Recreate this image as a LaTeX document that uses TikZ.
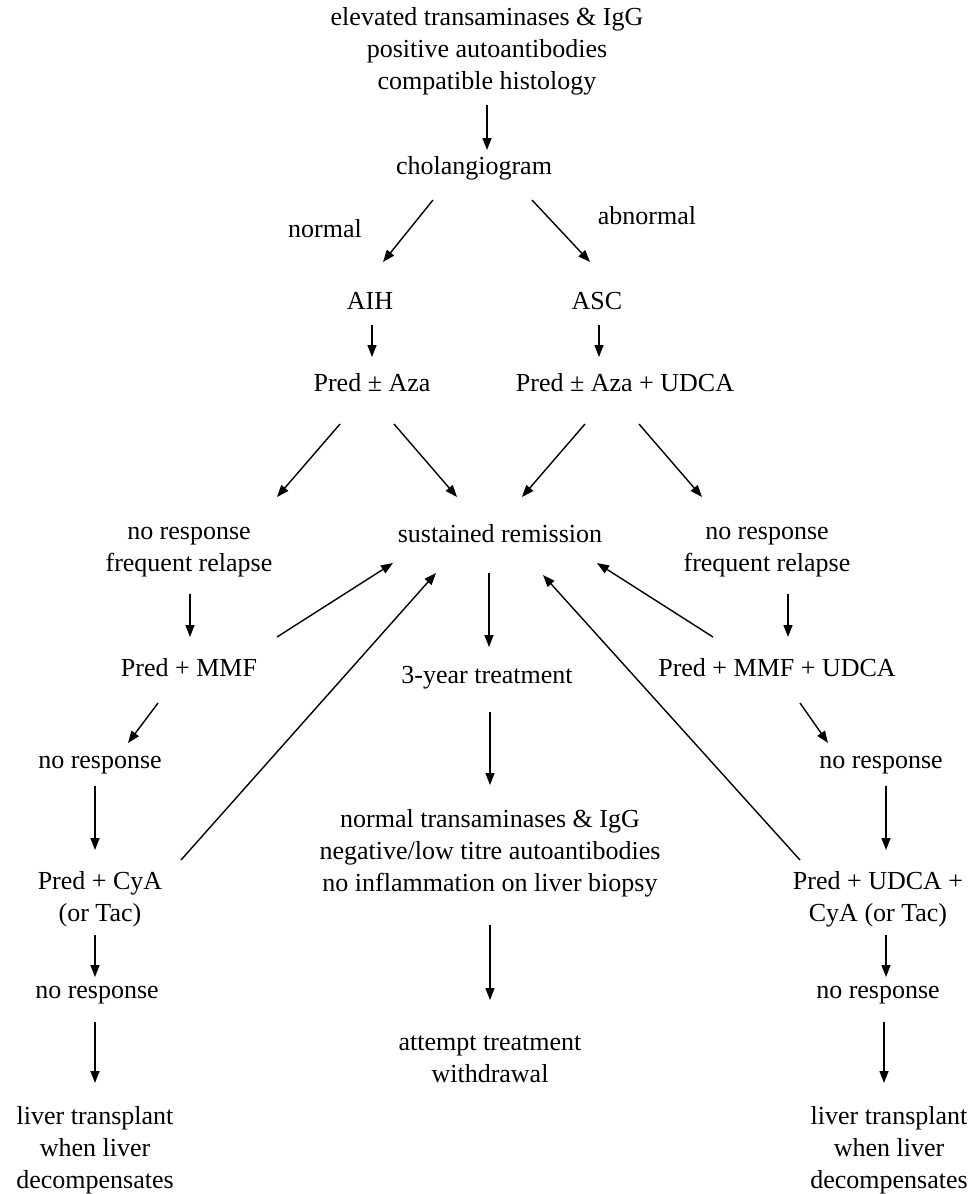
\documentclass[tikz,border=0pt]{standalone}
\usepackage{fontspec}
\setmainfont{Liberation Serif}
\usetikzlibrary{arrows.meta}
\tikzset{
  txt/.style={inner sep=0pt,align=center,font=\fontsize{13}{16}\selectfont},
  arr/.style={line width=0.7pt,-{Triangle[length=6pt,width=4.5pt]}}
}
\begin{document}
\begin{tikzpicture}[x=0.5pt,y=-0.5pt]
	\useasboundingbox (0,0) rectangle (977,1194);
	\node [txt] (top) at (487,51) {elevated transaminases \& IgG\\positive autoantibodies\\compatible histology};
	\node [txt] (chol) at (474,168) {cholangiogram};
	\node [txt] (normal) at (325,229) {normal};
	\node [txt] (abnormal) at (647,216) {abnormal};
	\node [txt] (aih) at (370,301) {AIH};
	\node [txt] (asc) at (597,301) {ASC};
	\node [txt] (praza) at (372,383) {Pred ± Aza};
	\node [txt] (prazaudca) at (625,383) {Pred ± Aza + UDCA};
	\node [txt] (nrl) at (189,552) {no response\\frequent relapse};
	\node [txt] (rem) at (500,534) {sustained remission};
	\node [txt] (nrr) at (767,552) {no response\\frequent relapse};
	\node [txt] (mmfl) at (189,668) {Pred + MMF};
	\node [txt] (yr3) at (487,678) {3-year treatment};
	\node [txt] (mmfr) at (777,668) {Pred + MMF + UDCA};
	\node [txt] (nol1) at (100,765) {no response};
	\node [txt] (cyal) at (100,899) {Pred + CyA\\(or Tac)};
	\node [txt] (nol2) at (97,995) {no response};
	\node [txt] (ltl) at (95,1150) {liver transplant\\when liver\\decompensates};
	\node [txt] (labs) at (490,853) {normal transaminases \& IgG\\negative/low titre autoantibodies\\no inflammation on liver biopsy};
	\node [txt] (withdr) at (490,1059) {attempt treatment\\withdrawal};
	\node [txt] (nor1) at (881,765) {no response};
	\node [txt] (cyar) at (878,899) {Pred + UDCA +\\CyA (or Tac)};
	\node [txt] (nor2) at (878,995) {no response};
	\node [txt] (ltr) at (889,1150) {liver transplant\\when liver\\decompensates};
	\draw [arr] ([shift={(0,54)}]top.center) -- ([shift={(13,-18)}]chol.center);
	\draw [arr] ([shift={(-41,32)}]chol.center) -- ([shift={(13,-39)}]aih.center);
	\draw [arr] ([shift={(58,32)}]chol.center) -- ([shift={(-7,-39)}]asc.center);
	\draw [arr] ([shift={(2,24)}]aih.center) -- ([shift={(0,-26)}]praza.center);
	\draw [arr] ([shift={(2,24)}]asc.center) -- ([shift={(-26,-26)}]prazaudca.center);
	\draw [arr] ([shift={(-32,41)}]praza.center) -- ([shift={(88,-55)}]nrl.center);
	\draw [arr] ([shift={(22,41)}]praza.center) -- ([shift={(-43,-37)}]rem.center);
	\draw [arr] ([shift={(-40,41)}]prazaudca.center) -- ([shift={(22,-37)}]rem.center);
	\draw [arr] ([shift={(14,41)}]prazaudca.center) -- ([shift={(-65,-55)}]nrr.center);
	\draw [arr] ([shift={(1,42)}]nrl.center) -- ([shift={(1,-31)}]mmfl.center);
	\draw [arr] ([shift={(88,-31)}]mmfl.center) -- ([shift={(-107,29)}]rem.center);
	\draw [arr] ([shift={(81,-39)}]cyal.center) -- ([shift={(-64,39)}]rem.center);
	\draw [arr] ([shift={(-11,39)}]rem.center) -- ([shift={(2,-31)}]yr3.center);
	\draw [arr] ([shift={(-64,-31)}]mmfr.center) -- ([shift={(97,29)}]rem.center);
	\draw [arr] ([shift={(-78,-39)}]cyar.center) -- ([shift={(43,41)}]rem.center);
	\draw [arr] ([shift={(21,42)}]nrr.center) -- ([shift={(11,-31)}]mmfr.center);
	\draw [arr] ([shift={(-31,35)}]mmfl.center) -- ([shift={(28,-22)}]nol1.center);
	\draw [arr] ([shift={(-5,21)}]nol1.center) -- ([shift={(-5,-49)}]cyal.center);
	\draw [arr] ([shift={(-5,36)}]cyal.center) -- ([shift={(-2,-18)}]nol2.center);
	\draw [arr] ([shift={(-2,27)}]nol2.center) -- ([shift={(0,-67)}]ltl.center);
	\draw [arr] ([shift={(3,34)}]yr3.center) -- ([shift={(0,-68)}]labs.center);
	\draw [arr] ([shift={(0,72)}]labs.center) -- ([shift={(0,-59)}]withdr.center);
	\draw [arr] ([shift={(23,35)}]mmfr.center) -- ([shift={(-53,-22)}]nor1.center);
	\draw [arr] ([shift={(5,21)}]nor1.center) -- ([shift={(8,-49)}]cyar.center);
	\draw [arr] ([shift={(8,36)}]cyar.center) -- ([shift={(8,-18)}]nor2.center);
	\draw [arr] ([shift={(6,27)}]nor2.center) -- ([shift={(-5,-67)}]ltr.center);
\end{tikzpicture}
\end{document}
